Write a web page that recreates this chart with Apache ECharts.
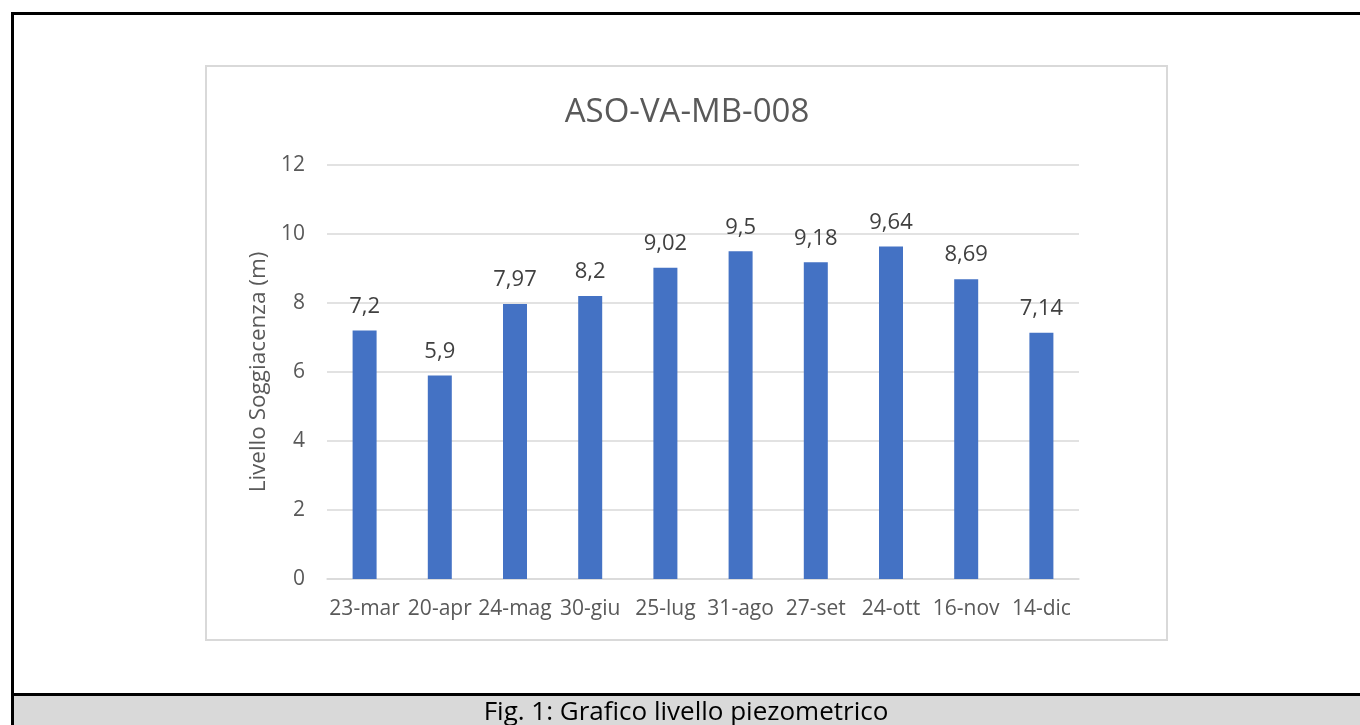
<!DOCTYPE html>
<html>
<head>
<meta charset="utf-8">
<script src="https://cdn.jsdelivr.net/npm/echarts@6/dist/echarts.min.js"></script>
<style>
html,body{margin:0;padding:0;background:#fff;}
#main{width:1360px;height:725px;}
</style>
</head>
<body>
<div id="main"></div>
<script>
const categories = ['23-mar','20-apr','24-mag','30-giu','25-lug','31-ago','27-set','24-ott','16-nov','14-dic'];
const values = [7.2, 5.9, 7.97, 8.2, 9.02, 9.5, 9.18, 9.64, 8.69, 7.14];
const yTicks = [0, 2, 4, 6, 8, 10, 12];
const chartTitle = 'ASO-VA-MB-008';
const yAxisName = 'Livello Soggiacenza (m)';
const caption = 'Fig. 1: Grafico livello piezometrico';

const font = '"Open Sans", "Noto Sans", sans-serif';
const chart = echarts.init(document.getElementById('main'), null, {renderer: 'canvas'});
chart.setOption({
  animation: false,
  backgroundColor: '#ffffff',
  title: {
    text: chartTitle,
    left: 682,
    top: 91,
    textAlign: 'center',
    textStyle: {fontFamily: font, fontSize: 33, fontWeight: 'normal', color: '#595959'}
  },
  grid: {left: 327, right: 281, top: 165, bottom: 146},
  xAxis: {
    type: 'category',
    data: categories,
    axisLine: {lineStyle: {color: '#d9d9d9', width: 1.5}},
    axisTick: {show: false},
    axisLabel: {fontFamily: font, fontSize: 21, color: '#595959', margin: 20, interval: 0}
  },
  yAxis: {
    type: 'value',
    min: yTicks[0],
    max: yTicks[yTicks.length - 1],
    interval: yTicks[1] - yTicks[0],
    name: yAxisName,
    nameLocation: 'middle',
    nameGap: 56,
    nameTextStyle: {fontFamily: font, fontSize: 22.5, color: '#595959'},
    axisLine: {show: false},
    axisTick: {show: false},
    splitLine: {lineStyle: {color: '#d9d9d9', width: 1.5}},
    axisLabel: {fontFamily: font, fontSize: 21, color: '#595959', margin: 22}
  },
  series: [{
    type: 'bar',
    data: values,
    barWidth: 24,
    itemStyle: {color: '#4472c4'},
    label: {
      show: true,
      position: 'top',
      distance: 13,
      fontFamily: font,
      fontSize: 22,
      color: '#404040',
      formatter: p => String(p.value).replace('.', ',')
    }
  }],
  graphic: [
    {type: 'rect', shape: {x: 12.5, y: 13.5, width: 1400, height: 681}, style: {fill: 'none', stroke: '#000', lineWidth: 3}, z: -1},
    {type: 'rect', shape: {x: 206, y: 66, width: 961, height: 574}, style: {fill: 'none', stroke: '#d9d9d9', lineWidth: 2}, z: -1},
    {type: 'rect', shape: {x: 14, y: 696, width: 1400, height: 40}, style: {fill: '#d9d9d9'}, z: -1},
    {type: 'rect', shape: {x: 11, y: 694, width: 3, height: 40}, style: {fill: '#000'}, z: -1},
    {type: 'text', x: 686, y: 713, style: {text: caption, font: '26px "Open Sans", sans-serif', fill: '#000', textAlign: 'center', textVerticalAlign: 'middle'}, z: 1}
  ]
});
</script>
</body>
</html>
